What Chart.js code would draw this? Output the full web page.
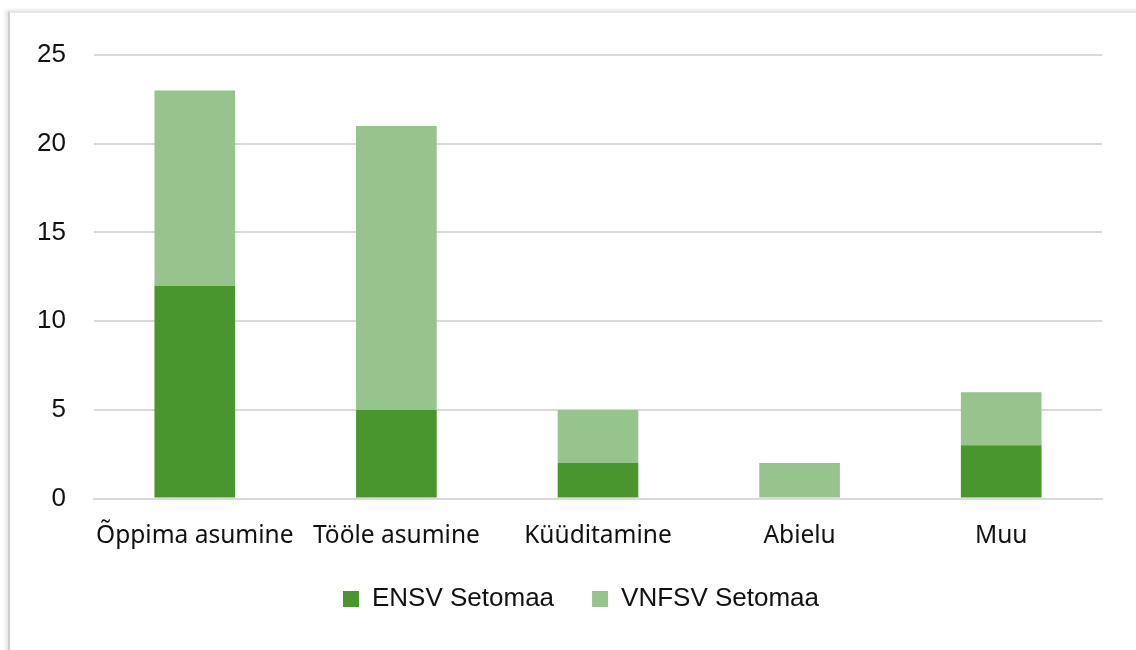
<!DOCTYPE html>
<html>
<head>
<meta charset="utf-8">
<script src="https://cdn.jsdelivr.net/npm/chart.js@4"></script>
<style>
  html, body { margin: 0; padding: 0; background: #fff; }
  #wrap { position: relative; width: 1136px; height: 650px; overflow: hidden; }
  #frame {
    position: absolute; left: 8px; top: 11px; width: 1200px; height: 700px;
    border-left: 2px solid #cfcfcf; border-top: 2px solid #e6e6e6;
    box-shadow: -2px -1px 4px rgba(0,0,0,0.12);
  }
  #chart { position: absolute; left: 0; top: 0; }
</style>
</head>
<body>
<div id="wrap">
  <div id="frame"></div>
  <canvas id="chart" width="1136" height="650"></canvas>
</div>
<script>
const categories = ['Õppima asumine', 'Tööle asumine', 'Küüditamine', 'Abielu', 'Muu'];
const ensv = [12, 5, 2, 0, 3];
const vnfsv = [11, 16, 3, 2, 3];
const yTicks = [0, 5, 10, 15, 20, 25];

// legend: keep the wide gap between items but take less height,
// and sit a little right of centre like in the original
const LEGEND_TRIM = 20;
const LEGEND_LIFT = 18;
const legendTweak = {
  id: 'legendTweak',
  beforeLayout(chart) {
    const lg = chart.legend;
    if (lg && !lg._trimmed) {
      const fit = lg.fit;
      lg.fit = function () { fit.call(this); this.height -= LEGEND_TRIM; };
      lg._trimmed = true;
    }
  },
  afterLayout(chart) {
    const lg = chart.legend;
    lg.left += 12;
    lg.right += 12;
    lg.top -= LEGEND_LIFT;
    lg.height += LEGEND_LIFT;
  }
};

const ctx = document.getElementById('chart').getContext('2d');

const chart = new Chart(ctx, {
  type: 'bar',
  data: {
    labels: categories,
    datasets: [{
      label: 'ENSV Setomaa',
      data: ensv,
      backgroundColor: '#4a962e',
      categoryPercentage: 1,
      barPercentage: 0.4
    }, {
      label: 'VNFSV Setomaa',
      data: vnfsv,
      backgroundColor: '#97c38d',
      categoryPercentage: 1,
      barPercentage: 0.4
    }]
  },
  plugins: [legendTweak],
  options: {
    responsive: false,
    animation: false,
    layout: {
      padding: { left: 36, right: 34, top: 55, bottom: 30 }
    },
    plugins: {
      legend: {
        position: 'bottom',
        labels: {
          color: '#111',
          boxWidth: 16,
          boxHeight: 16,
          padding: 38,
          font: { family: 'Liberation Sans', size: 26 }
        }
      },
      tooltip: { enabled: false }
    },
    scales: {
      x: {
        stacked: true,
        grid: { display: false },
        border: { display: true, color: '#d9d9d9', width: 2 },
        ticks: {
          color: '#111',
          padding: 15,
          maxRotation: 0,
          font: { family: 'Noto Sans', size: 24.5 }
        }
      },
      y: {
        stacked: true,
        min: 0,
        max: 25,
        afterFit: (scale) => { scale.width = 58; },
        afterBuildTicks: (scale) => { scale.ticks = yTicks.map(v => ({ value: v })); },
        border: { display: false },
        grid: { color: '#d9d9d9', lineWidth: 2, drawTicks: false },
        ticks: {
          color: '#111',
          padding: 28,
          font: { family: 'Liberation Sans', size: 26 }
        }
      }
    }
  }
});
</script>
</body>
</html>
